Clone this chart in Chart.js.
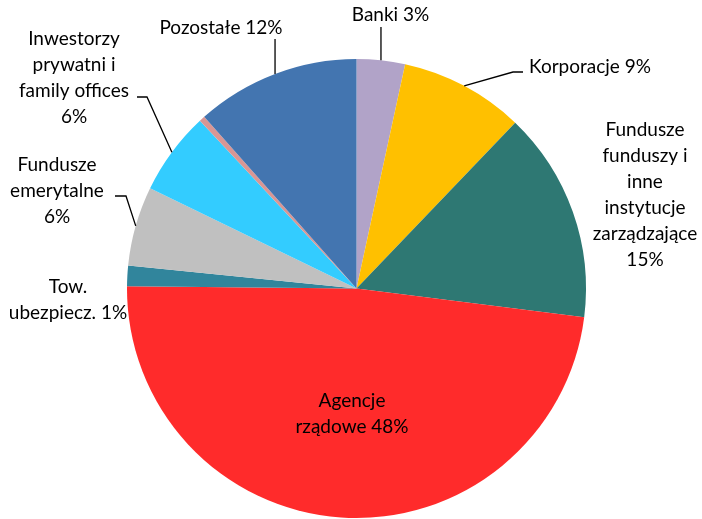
<!DOCTYPE html>
<html>
<head>
<meta charset="utf-8">
<script src="https://cdn.jsdelivr.net/npm/chart.js@4"></script>
<style>
  html, body { margin: 0; padding: 0; background: #fff; }
  #wrap { width: 702px; height: 519px; }
</style>
</head>
<body>
<div id="wrap"><canvas id="myChart" width="702" height="519"></canvas></div>
<script>
// struktura inwestorów - udział procentowy //

var categories = ['Banki', 'Korporacje', 'Fundusze funduszy i inne instytucje zarządzające',
    'Agencje rządowe', 'Tow. ubezpiecz.', 'Fundusze emerytalne',
    'Inwestorzy prywatni i family offices', 'Inne', 'Pozostałe'];
var shares = [3.4, 8.75, 14.85, 48.15, 1.45, 5.6, 5.85, 0.4, 11.55];
var colors = ['#B1A3C8', '#FFC000', '#2E7873', '#FF2B2B', '#31859C', '#C0C0C0',
    '#33CCFF', '#D99694', '#4375B0'];

// label lines, {v} is replaced by the rounded share
var labelLines = [
    ['Banki {v}%'],
    ['Korporacje {v}%'],
    ['Fundusze', 'funduszy i', 'inne', 'instytucje', 'zarządzające', '{v}%'],
    ['Agencje', 'rządowe {v}%'],
    ['Tow.', 'ubezpiecz. {v}%'],
    ['Fundusze', 'emerytalne', '{v}%'],
    ['Inwestorzy', 'prywatni i', 'family offices', '{v}%'],
    null,
    ['Pozostałe {v}%']
];

// label placement relative to the pie centre + leader line bends
var labelPos = [
    { x: 34, y: -273.5, leader: [[24.5, -261.5]] },
    { x: 233.5, y: -221.5, leader: [[156.5, -216.5], [166.5, -216.5]] },
    { x: 288.5, y: -93.5 },
    { x: -4.5, y: 125 },
    { x: -288.5, y: 11.5 },
    { x: -299.5, y: -98, leader: [[-230.5, -92.5], [-241.5, -92.5]] },
    { x: -282.5, y: -211, leader: [[-209.5, -191.5], [-219.5, -191.5]] },
    null,
    { x: -135.5, y: -260.5, leader: [[-81.5, -249.5]] }
];

var FONT = '19px Lato';
var LINE_H = 26;

var pieLabels = {
    id: 'pieLabels',
    afterDatasetsDraw: function (chart) {
        var ctx = chart.ctx;
        var arcs = chart.getDatasetMeta(0).data;
        ctx.save();
        ctx.font = FONT;
        ctx.fillStyle = '#000';
        ctx.strokeStyle = '#000';
        ctx.lineWidth = 1.3;
        ctx.textAlign = 'center';
        ctx.textBaseline = 'middle';
        arcs.forEach(function (arc, i) {
            var pos = labelPos[i];
            if (!pos || !labelLines[i]) return;
            var cx = arc.x, cy = arc.y;
            if (pos.leader) {
                var mid = (arc.startAngle + arc.endAngle) / 2;
                ctx.beginPath();
                var ex = cx + arc.outerRadius * Math.cos(mid);
                var ey = cy + arc.outerRadius * Math.sin(mid);
                ctx.moveTo(ex, ey);
                pos.leader.forEach(function (p, k) {
                    // a single bend is a straight drop from the arc edge
                    var px = pos.leader.length === 1 ? ex : cx + p[0];
                    ctx.lineTo(px, cy + p[1]);
                });
                ctx.stroke();
            }
            var v = Math.round(shares[i]);
            var lines = labelLines[i].map(function (t) { return t.replace('{v}', v); });
            var top = cy + pos.y - (lines.length - 1) * LINE_H / 2;
            lines.forEach(function (t, k) {
                ctx.fillText(t, cx + pos.x, top + k * LINE_H);
            });
        });
        ctx.restore();
    }
};

var ctx = document.getElementById('myChart').getContext('2d');
var chart = new Chart(ctx, {
    type: 'pie',
    data: {
        labels: categories,
        datasets: [{
            data: shares,
            backgroundColor: colors,
            borderWidth: 0
        }]
    },
    options: {
        responsive: false,
        animation: false,
        layout: { padding: { top: 59, bottom: 1, left: 11, right: 0 } },
        plugins: {
            legend: { display: false },
            tooltip: { enabled: false }
        }
    },
    plugins: [pieLabels]
});
</script>
</body>
</html>
